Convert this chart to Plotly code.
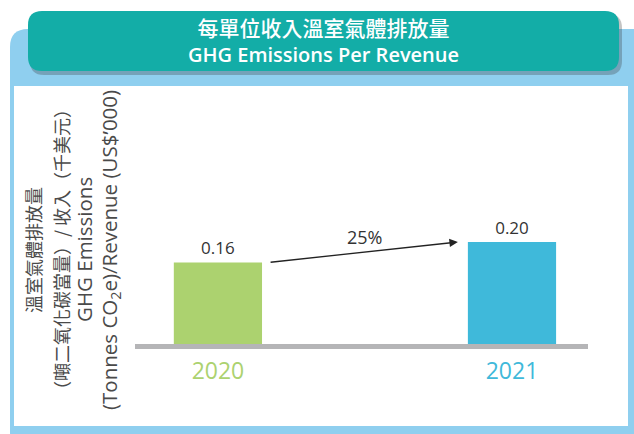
import plotly.graph_objects as go

years = ["2020", "2021"]
values = [0.16, 0.20]
bar_colors = ["#acd26f", "#3fb9da"]

title_zh = "每單位收入溫室氣體排放量"
title_en = "GHG Emissions Per Revenue"
ytitle_lines = [
    "溫室氣體排放量",
    "（噸二氧化碳當量）/ 收入（千美元）",
    "GHG Emissions",
    "(Tonnes CO<sub>2</sub>e)/Revenue (US$’000)",
]
ytitle_x = [33, 61, 84, 110]   # pixel centre of each rotated line

W, H = 634, 434
bar_w = 0.3


def px(x):
    return x / W


def py(y):
    return 1 - y / H


def rounded_rect(x0, y0, x1, y1, r):
    # pixel box -> paper path with rounded corners
    rx, ry = r / W, r / H
    a, b, c, d = px(x0), py(y0), px(x1), py(y1)
    return (f"M {a+rx},{b} L {c-rx},{b} Q {c},{b} {c},{b-ry} "
            f"L {c},{d+ry} Q {c},{d} {c-rx},{d} L {a+rx},{d} "
            f"Q {a},{d} {a},{d+ry} L {a},{b-ry} Q {a},{b} {a+rx},{b} Z")


fig = go.Figure()
fig.add_trace(go.Bar(
    x=years, y=values, width=bar_w,
    marker=dict(color=bar_colors, line=dict(width=0)),
    texttemplate="%{y:.2f}", textposition="outside",
    textfont=dict(size=17, color="#333333", family="Open Sans"),
    cliponaxis=False, hoverinfo="skip",
))

paper = dict(xref="paper", yref="paper", line=dict(width=0), layer="below")
shapes = [
    # light blue frame
    dict(type="path", path=rounded_rect(10, 29, 650, 450, 18), fillcolor="#8fcfef", **paper),
    # white panel
    dict(type="rect", x0=px(14), x1=px(628), y0=py(86), y1=py(426), fillcolor="white", **paper),
    # title shadow
    dict(type="path", path=rounded_rect(30, 14, 622, 75, 14), fillcolor="rgba(60,60,60,0.3)", **paper),
    # title box
    dict(type="path", path=rounded_rect(28, 11, 619, 71, 14), fillcolor="#13ada7", **paper),
]

pct = round((values[1] - values[0]) / values[0] * 100)
centered = dict(xref="paper", yref="paper", xanchor="center", yanchor="middle", showarrow=False)
annotations = [
    dict(x=px(323), y=py(41),
         text=f"<span style='font-size:21px;font-weight:500'>{title_zh}</span><br>"
              f"<span style='font-weight:600'>{title_en}</span>",
         font=dict(size=20, color="white", family="Open Sans, Noto Sans CJK TC"), **centered),
    # arrow between bars
    dict(x=1 - bar_w / 2 - 0.034, y=values[1], ax=bar_w / 2 + 0.024, ay=values[0],
         xref="x", yref="y", axref="x", ayref="y", text="", showarrow=True,
         arrowhead=2, arrowsize=1.3, arrowwidth=1.3, arrowcolor="#222222"),
    dict(x=0.5, y=(values[0] + values[1]) / 2, xref="x", yref="y", yshift=15,
         showarrow=False, text=f"{pct}%",
         font=dict(size=18, color="#333333", family="Open Sans")),
]
for line, lx in zip(ytitle_lines, ytitle_x):
    cjk = any(ord(ch) > 0x2e80 for ch in line)
    annotations.append(dict(
        x=px(lx), y=py(250), textangle=-90, text=line,
        font=dict(size=18 if cjk else 20.5, color="#4a4a4a",
                  family="Noto Sans CJK TC" if cjk else "Open Sans"),
        **centered,
    ))

fig.update_layout(
    width=W, height=H,
    margin=dict(l=0, r=0, t=0, b=0),
    paper_bgcolor="white", plot_bgcolor="rgba(0,0,0,0)",
    showlegend=False,
    shapes=shapes, annotations=annotations,
    xaxis=dict(
        domain=[px(135), px(588)], type="category", range=[-0.282, 1.2585],
        tickvals=years,
        ticktext=[f"<span style='color:{c}'>{y}</span>" for y, c in zip(years, bar_colors)],
        tickfont=dict(size=23, family="Open Sans"),
        showline=True, linecolor="#b5b5b7", linewidth=5,
        showgrid=False, zeroline=False, ticks="", ticklabelstandoff=2,
    ),
    yaxis=dict(
        domain=[py(344), py(190)], range=[0, 0.302],
        visible=False, showgrid=False, zeroline=False,
    ),
)

fig.write_html("out.html", config={"displayModeBar": False},
               post_script="document.body.style.margin='0';")
